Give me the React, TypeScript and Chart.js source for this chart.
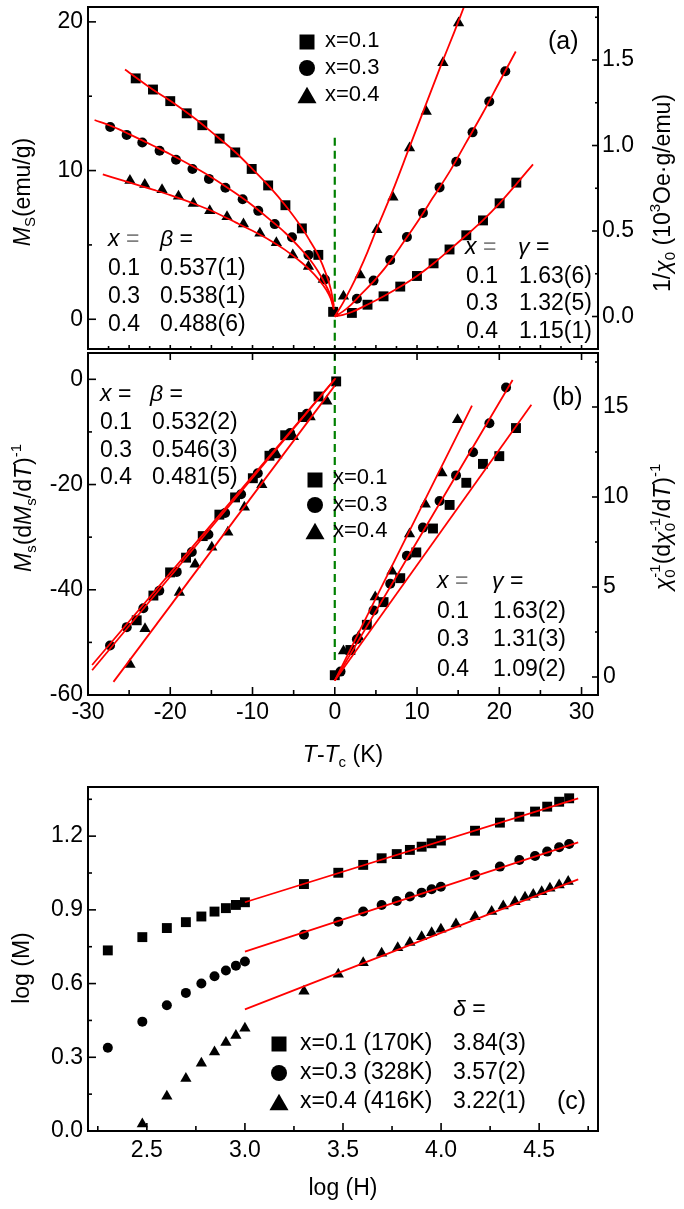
import React, { useEffect, useRef } from 'react';
import { Chart, registerables } from 'chart.js';

Chart.register(...registerables);

type Pt = [number, number];
type Style = 'rect' | 'circle' | 'triangle';

// ======================= DATA =======================
// Panel (a) – left axis: Ms (emu/g) vs T-Tc (K), T < Tc
const aMsX01: Pt[] = [[-24.2,16.2],[-22.1,15.45],[-20.0,14.67],[-18.0,13.85],[-16.1,13.05],[-14.0,12.15],[-12.1,11.22],[-10.1,10.11],[-8.1,9.0],[-6.0,7.67],[-4.0,6.11],[-2.0,4.33],[-0.2,0.5]];
const aMsX03: Pt[] = [[-27.3,12.93],[-25.3,12.4],[-23.4,11.89],[-21.3,11.33],[-19.3,10.73],[-17.3,10.11],[-15.3,9.44],[-13.3,8.84],[-11.2,8.07],[-9.3,7.29],[-7.3,6.4],[-5.2,5.51],[-3.2,4.33],[-1.2,2.67]];
const aMsX04: Pt[] = [[-24.9,9.33],[-23.1,9.07],[-21.0,8.71],[-19.0,8.27],[-17.2,7.78],[-15.2,7.29],[-13.1,6.89],[-11.1,6.4],[-9.1,5.78],[-7.1,5.15],[-5.1,4.33],[-3.2,3.55],[-1.4,2.67]];
const aMsFit01: Pt[] = [[-25.5,16.8],[-22,15.4],[-20,14.7],[-17,13.5],[-15,12.6],[-12,11.2],[-10,10.1],[-8,8.95],[-6,7.65],[-4,6.15],[-3,5.25],[-2,4.3],[-1,2.95],[-0.5,2.05],[-0.1,0.9]];
const aMsFit03: Pt[] = [[-29.2,13.4],[-27,12.95],[-25,12.45],[-22,11.65],[-20,11.1],[-17,10.2],[-15,9.55],[-12,8.45],[-10,7.65],[-8,6.75],[-6,5.8],[-4,4.65],[-3,4.0],[-2,3.2],[-1,2.2],[-0.5,1.55],[-0.1,0.7]];
const aMsFit04: Pt[] = [[-28.2,9.75],[-25,9.2],[-22,8.7],[-20,8.35],[-17,7.75],[-15,7.3],[-12,6.5],[-10,5.95],[-8,5.35],[-6,4.65],[-4,3.8],[-3,3.3],[-2,2.7],[-1,1.95],[-0.5,1.4],[-0.1,0.65]];
// Panel (a) – right axis: 1/chi0 (10^3 Oe g/emu), T > Tc
const aChiX01: Pt[] = [[2.08,0.021],[3.98,0.069],[5.93,0.118],[7.96,0.175],[9.99,0.237],[12.01,0.311],[13.95,0.392],[15.99,0.475],[18.02,0.562],[20.04,0.662],[22.07,0.783]];
const aChiX03: Pt[] = [[2.69,0.104],[4.71,0.21],[6.74,0.33],[8.77,0.465],[10.72,0.606],[12.74,0.755],[14.77,0.905],[16.75,1.077],[18.78,1.257],[20.73,1.434]];
const aChiX04: Pt[] = [[1.06,0.118],[3.09,0.243],[5.12,0.508],[7.07,0.697],[9.09,0.986],[11.12,1.199],[13.15,1.484],[15.05,1.716]];
const aChiFit01: Pt[] = [[0,0],[1,0.01],[2,0.025],[4,0.07],[6,0.12],[8,0.175],[10,0.237],[12,0.31],[14,0.392],[16,0.475],[18,0.562],[20,0.66],[22,0.77],[24.1,0.89]];
const aChiFit03: Pt[] = [[0,0],[1,0.03],[2,0.07],[3,0.12],[5,0.22],[7,0.34],[8,0.41],[10,0.55],[12,0.7],[14,0.85],[16,1.02],[18,1.19],[20,1.37],[22,1.55]];
const aChiFit04: Pt[] = [[0,0],[0.5,0.04],[1,0.08],[2,0.17],[3,0.27],[4,0.38],[5,0.5],[7,0.73],[9,0.98],[11,1.23],[13,1.48],[14.5,1.66],[15.7,1.81]];
const aTcLine: Pt[] = [[0,12.2],[0,-2]];

// Panel (b) – left axis: Ms(dMs/dT)^-1
const bKfX01: Pt[] = [[0.17,-0.4],[-1.98,-3.27],[-3.88,-7.17],[-6.03,-10.63],[-7.94,-14.53],[-9.96,-18.8],[-12.12,-22.45],[-14.03,-25.72],[-16.05,-29.8],[-18.08,-33.9],[-20.02,-36.7],[-22.05,-41.1],[-24.08,-45.8]];
const bKfX03: Pt[] = [[-3.39,-6.55],[-5.43,-10.19],[-7.46,-13.96],[-9.36,-17.87],[-11.39,-21.83],[-13.33,-25.42],[-15.36,-29.5],[-17.38,-32.83],[-19.21,-36.6],[-21.33,-40.2],[-23.27,-43.5],[-25.29,-47.1],[-27.32,-50.6]];
const bKfX04: Pt[] = [[-0.96,-4.15],[-2.99,-7.17],[-5.02,-10.94],[-7.04,-14.4],[-8.87,-20.06],[-10.99,-24.34],[-13.0,-29.06],[-14.95,-31.9],[-16.98,-35.16],[-18.89,-40.5],[-23.07,-47.4],[-24.89,-54.2]];
const bKfFit01: Pt[] = [[-29.5,-55.3],[0.1,0.2]];
const bKfFit03: Pt[] = [[-29.5,-54.3],[0,0]];
const bKfFit04: Pt[] = [[-26.9,-57.5],[0,-1.2]];
// Panel (b) – right axis: chi0^-1(dchi0^-1/dT)^-1
const bKfRX01: Pt[] = [[0.0,0.1],[1.9,1.5],[3.9,2.9],[5.93,4.16],[7.96,5.49],[9.91,6.92],[11.94,8.25],[13.96,9.56],[15.99,10.79],[18.01,11.84],[20.0,12.27],[22.03,13.83]];
const bKfRX03: Pt[] = [[0.7,0.3],[2.69,2.1],[4.71,3.7],[6.74,5.18],[8.77,6.74],[10.72,8.3],[12.74,9.78],[14.74,11.2],[16.81,12.49],[18.8,14.1],[20.82,16.08]];
const bKfRX04: Pt[] = [[1.06,1.45],[2.89,2.23],[4.92,4.44],[6.95,5.87],[9.09,7.94],[11.0,9.6],[13.03,11.34],[14.93,14.29]];
const bKfRFit01: Pt[] = [[0,-0.2],[23.9,15.12]];
const bKfRFit03: Pt[] = [[0,-0.2],[21.62,16.5]];
const bKfRFit04: Pt[] = [[0,-0.2],[16.68,15.08]];
const bTcLine: Pt[] = [[0,5],[0,-53.5]];

// Panel (c) – log(M) vs log(H)
const cLogH: number[] = [2.301,2.477,2.602,2.699,2.778,2.845,2.903,2.954,3.0,3.301,3.476,3.603,3.697,3.774,3.841,3.901,3.952,3.999,4.173,4.300,4.399,4.479,4.541,4.602,4.653];
const cLogM01: number[] = [0.735,0.789,0.826,0.850,0.873,0.893,0.907,0.920,0.931,1.005,1.051,1.083,1.110,1.127,1.144,1.157,1.171,1.182,1.222,1.255,1.279,1.300,1.320,1.340,1.354];
const cLogM03: number[] = [0.339,0.445,0.512,0.562,0.600,0.630,0.653,0.673,0.690,0.799,0.852,0.893,0.920,0.936,0.954,0.970,0.984,0.994,1.042,1.076,1.103,1.119,1.137,1.155,1.168];
const cLogH04: number[] = [2.477,2.602,2.699,2.778,2.845,2.903,2.954,3.0,3.301,3.476,3.603,3.697,3.779,3.841,3.901,3.952,3.999,4.076,4.173,4.258,4.317,4.377,4.428,4.470,4.513,4.555,4.602,4.648];
const cLogM04: number[] = [0.028,0.141,0.214,0.276,0.322,0.360,0.389,0.418,0.569,0.638,0.685,0.723,0.746,0.767,0.791,0.807,0.821,0.842,0.872,0.893,0.916,0.933,0.951,0.963,0.974,0.988,1.001,1.015];
const cFit01: Pt[] = [[3.0,0.931],[4.699,1.354]];
const cFit03: Pt[] = [[3.0,0.730],[4.699,1.175]];
const cFit04: Pt[] = [[3.0,0.495],[4.699,1.024]];

// Text values
const compX = ['0.1', '0.3', '0.4'];
const legendLabels = ['x=0.1', 'x=0.3', 'x=0.4'];
const aBeta = ['0.537(1)', '0.538(1)', '0.488(6)'];
const aGamma = ['1.63(6)', '1.32(5)', '1.15(1)'];
const bBeta = ['0.532(2)', '0.546(3)', '0.481(5)'];
const bGamma = ['1.63(2)', '1.31(3)', '1.09(2)'];
const cLegend = ['x=0.1 (170K)', 'x=0.3 (328K)', 'x=0.4 (416K)'];
const cDelta = ['3.84(3)', '3.57(2)', '3.22(1)'];

// Tick values
const abXTicks = [-30, -20, -10, 0, 10, 20, 30];
const abXMinor = [-25, -15, -5, 5, 15, 25];
const abXFine = [-27.5, -22.5, -17.5, -12.5, -7.5, -2.5, 2.5, 7.5, 12.5, 17.5, 22.5, 27.5];
const aLeftTicks = [0, 10, 20];
const aLeftMinor = [5, 15];
const aRightTicks = [0, 0.5, 1, 1.5];
const aRightMinor = [0.25, 0.75, 1.25, 1.75];
const bLeftTicks = [-60, -40, -20, 0];
const bLeftMinor = [-50, -30, -10];
const bRightTicks = [0, 5, 10, 15];
const bRightMinor = [2.5, 7.5, 12.5, 17.5];
const cXTicks = [2.5, 3, 3.5, 4, 4.5];
const cXMinor = [2.25, 2.75, 3.25, 3.75, 4.25, 4.75];
const cYTicks = [0, 0.3, 0.6, 0.9, 1.2];
const cYMinor = [0.15, 0.45, 0.75, 1.05, 1.35];

// ======================= STYLE / HELPERS =======================
const FONT = '"Liberation Sans", Arial, Helvetica, sans-serif';
const GREY = '#808080';
const R: Record<Style, number> = { rect: 7, circle: 5, triangle: 6.5 };
const LR: Record<Style, number> = { rect: 10.6, circle: 8, triangle: 11 };

interface Seg { t: string; i?: boolean; b?: 'sub' | 'sup'; c?: string; k?: boolean }
interface TextItem { segs: Seg[]; x: number; y: number; size: number; align?: 'left' | 'center'; rot?: boolean }
interface TickSpec { id: string; side: 'left' | 'right' | 'top' | 'bottom'; major: number[]; minor: number[]; ml: number; nl: number }
interface LegendMark { style: Style; x: number; y: number }

const toXY = (a: Pt[]) => a.map(([x, y]) => ({ x, y }));
const zipXY = (xs: number[], ys: number[]) => xs.map((x, i) => ({ x, y: ys[i] }));

function pts(data: { x: number; y: number }[], style: Style, yAxisID: string) {
  return {
    data, yAxisID, showLine: false, order: 1,
    pointStyle: style, pointRadius: R[style], pointHoverRadius: R[style],
    pointBackgroundColor: '#000', pointBorderColor: '#000', pointBorderWidth: 0,
  };
}
function fit(data: Pt[], yAxisID: string) {
  return {
    data: toXY(data), yAxisID, showLine: true, order: 0,
    borderColor: '#ff0000', borderWidth: 1.8, pointRadius: 0, fill: false,
    cubicInterpolationMode: 'monotone',
  };
}
function dash(data: Pt[], yAxisID: string) {
  return {
    data: toXY(data), yAxisID, showLine: true, order: 2,
    borderColor: '#008000', borderWidth: 2.2, borderDash: [8, 5], pointRadius: 0, fill: false,
  };
}

function scale(o: { pos: 'left' | 'right' | 'bottom'; min: number; max: number; ticks: number[]; dec: number; size: number; show?: boolean; pad?: number }) {
  const horiz = o.pos === 'bottom';
  return {
    type: 'linear', position: o.pos, min: o.min, max: o.max,
    grid: { display: false, drawTicks: false },
    border: { display: false },
    ticks: {
      display: o.show !== false, autoSkip: false, maxRotation: 0, minRotation: 0,
      padding: o.pad ?? 5, color: '#000', font: { family: FONT, size: 23 },
      callback: (v: number) => Number(v).toFixed(o.dec),
    },
    afterBuildTicks: (s: any) => { s.ticks = o.ticks.map((v) => ({ value: v })); },
    afterFit: (s: any) => {
      if (horiz) s.height = o.size; else s.width = o.size;
      s.paddingTop = 0; s.paddingBottom = 0; s.paddingLeft = 0; s.paddingRight = 0;
    },
  };
}

function drawRich(ctx: CanvasRenderingContext2D, it: TextItem) {
  const { segs, x, y, size } = it;
  ctx.save();
  ctx.translate(x, y);
  if (it.rot) ctx.rotate(-Math.PI / 2);
  ctx.textBaseline = 'middle';
  ctx.textAlign = 'left';
  const small = Math.round(size * 0.66);
  const fontOf = (s: Seg) => `${s.i ? 'italic ' : ''}${s.b ? small : size}px ${FONT}`;
  const pos: number[] = [];
  let cursor = 0, segStart = 0, segW = 0;
  for (const s of segs) {
    ctx.font = fontOf(s);
    const w = ctx.measureText(s.t).width;
    if (s.k) {
      pos.push(segStart);
      segW = Math.max(segW, w);
      cursor = segStart + segW;
    } else {
      pos.push(cursor);
      segStart = cursor; segW = w;
      cursor += w;
    }
  }
  const x0 = it.align === 'center' ? -cursor / 2 : 0;
  segs.forEach((s, idx) => {
    ctx.font = fontOf(s);
    ctx.fillStyle = s.c ?? '#000';
    const dy = s.b === 'sub' ? size * 0.3 : s.b === 'sup' ? -size * 0.36 : 0;
    ctx.fillText(s.t, x0 + pos[idx], dy);
  });
  ctx.restore();
}

function drawMarker(ctx: CanvasRenderingContext2D, style: Style, x: number, y: number, r: number) {
  ctx.beginPath();
  if (style === 'rect') { const s = r * Math.SQRT1_2; ctx.rect(x - s, y - s, 2 * s, 2 * s); }
  else if (style === 'circle') ctx.arc(x, y, r, 0, Math.PI * 2);
  else {
    const yc = y + r / 4;
    ctx.moveTo(x, yc - r); ctx.lineTo(x + r * 0.866, yc + r / 2); ctx.lineTo(x - r * 0.866, yc + r / 2); ctx.closePath();
  }
  ctx.fillStyle = '#000';
  ctx.fill();
}

function decorPlugin(offY: number, ticks: TickSpec[], texts: TextItem[], marks: LegendMark[]) {
  return {
    id: 'decor',
    afterDatasetsDraw(chart: any) {
      const ctx = chart.ctx as CanvasRenderingContext2D;
      const a = chart.chartArea;
      ctx.save();
      ctx.strokeStyle = '#000';
      ctx.lineWidth = 2;
      ctx.strokeRect(a.left, a.top, a.right - a.left, a.bottom - a.top);
      ctx.lineWidth = 1.6;
      for (const t of ticks) {
        const sc = chart.scales[t.id];
        const draw = (v: number, len: number) => {
          const p = sc.getPixelForValue(v);
          ctx.beginPath();
          if (t.side === 'left') { ctx.moveTo(a.left, p); ctx.lineTo(a.left + len, p); }
          else if (t.side === 'right') { ctx.moveTo(a.right, p); ctx.lineTo(a.right - len, p); }
          else if (t.side === 'bottom') { ctx.moveTo(p, a.bottom); ctx.lineTo(p, a.bottom - len); }
          else { ctx.moveTo(p, a.top); ctx.lineTo(p, a.top + len); }
          ctx.stroke();
        };
        t.major.forEach((v) => draw(v, t.ml));
        t.minor.forEach((v) => draw(v, t.nl));
      }
      ctx.translate(0, -offY);
      marks.forEach((m) => drawMarker(ctx, m.style, m.x, m.y, LR[m.style]));
      texts.forEach((tx) => drawRich(ctx, tx));
      ctx.restore();
    },
  };
}

function common(padTop: number, padRight: number) {
  return {
    responsive: false,
    animation: false,
    events: [],
    layout: { padding: { top: padTop, right: padRight, left: 0, bottom: 0 } },
    plugins: { legend: { display: false }, tooltip: { enabled: false }, title: { display: false } },
  };
}

const T = (t: string, x: number, y: number, size = 23): TextItem => ({ segs: [{ t }], x, y, size });
const styles: Style[] = ['rect', 'circle', 'triangle'];

// ======================= PANEL (a) =======================
const aTexts: TextItem[] = [
  { segs: [{ t: 'M', i: true }, { t: 'S', b: 'sub' }, { t: '(emu/g)' }], x: 24, y: 192, size: 23, align: 'center', rot: true },
  { segs: [{ t: '1/' }, { t: 'χ', i: true }, { t: '0', b: 'sub' }, { t: ' (10' }, { t: '3', b: 'sup' }, { t: 'Oe·g/emu)' }], x: 664, y: 193, size: 23, align: 'center', rot: true },
  T('(a)', 548, 42, 25),
  ...legendLabels.map((l, i) => T(l, 325, [41, 68, 95][i], 22)),
  { segs: [{ t: 'x', i: true }, { t: ' =', c: GREY }], x: 108, y: 240, size: 23 },
  { segs: [{ t: 'β', i: true }, { t: ' =' }], x: 160, y: 240, size: 23 },
  ...compX.map((c, i) => T(c, 108, [269, 297, 325][i])),
  ...aBeta.map((c, i) => T(c, 160, [269, 297, 325][i])),
  { segs: [{ t: 'x', i: true }, { t: ' =', c: GREY }], x: 465, y: 248, size: 23 },
  { segs: [{ t: 'γ', i: true }, { t: ' =' }], x: 518, y: 248, size: 23 },
  ...compX.map((c, i) => T(c, 466, [277, 304, 332][i])),
  ...aGamma.map((c, i) => T(c, 519, [277, 304, 332][i])),
];
const aMarks: LegendMark[] = styles.map((s, i) => ({ style: s, x: 307, y: [42, 68, 95][i] }));
const aTicks: TickSpec[] = [
  { id: 'yL', side: 'left', major: aLeftTicks, minor: aLeftMinor, ml: 8, nl: 4 },
  { id: 'yR', side: 'right', major: aRightTicks, minor: aRightMinor, ml: 6, nl: 3 },
  { id: 'x', side: 'bottom', major: [...abXTicks, ...abXMinor], minor: abXFine, ml: 4, nl: 3 },
];

const aConfig = () => ({
  type: 'scatter',
  data: {
    datasets: [
      fit(aMsFit01, 'yL'), fit(aMsFit03, 'yL'), fit(aMsFit04, 'yL'),
      fit(aChiFit01, 'yR'), fit(aChiFit03, 'yR'), fit(aChiFit04, 'yR'),
      dash(aTcLine, 'yL'),
      pts(toXY(aMsX01), 'rect', 'yL'), pts(toXY(aMsX03), 'circle', 'yL'), pts(toXY(aMsX04), 'triangle', 'yL'),
      pts(toXY(aChiX01), 'rect', 'yR'), pts(toXY(aChiX03), 'circle', 'yR'), pts(toXY(aChiX04), 'triangle', 'yR'),
    ],
  },
  options: {
    ...common(5, 0),
    scales: {
      x: scale({ pos: 'bottom', min: -30, max: 32, ticks: abXTicks, dec: 0, size: 5, show: false }),
      yL: scale({ pos: 'left', min: -2, max: 21, ticks: aLeftTicks, dec: 0, size: 88 }),
      yR: scale({ pos: 'right', min: -0.19, max: 1.81, ticks: aRightTicks, dec: 1, size: 86, pad: 4 }),
    },
  },
  plugins: [decorPlugin(0, aTicks, aTexts, aMarks)],
});

// ======================= PANEL (b) =======================
const B_TOP = 346;
const bTexts: TextItem[] = [
  { segs: [{ t: 'M', i: true }, { t: 's', b: 'sub' }, { t: '(d' }, { t: 'M', i: true }, { t: 's', b: 'sub' }, { t: '/d' }, { t: 'T', i: true }, { t: ')' }, { t: '-1', b: 'sup' }], x: 25, y: 508, size: 23, align: 'center', rot: true },
  { segs: [{ t: 'χ', i: true }, { t: '0', b: 'sub' }, { t: '-1', b: 'sup', k: true }, { t: '(d' }, { t: 'χ', i: true }, { t: '0', b: 'sub' }, { t: '-1', b: 'sup', k: true }, { t: '/d' }, { t: 'T', i: true }, { t: ')' }, { t: '-1', b: 'sup' }], x: 664, y: 527, size: 23, align: 'center', rot: true },
  { segs: [{ t: 'T', i: true }, { t: '-' }, { t: 'T', i: true }, { t: 'c', b: 'sub' }, { t: ' (K)' }], x: 343, y: 756, size: 23, align: 'center' },
  T('(b)', 552, 398, 25),
  ...legendLabels.map((l, i) => T(l, 333, [478, 505, 531][i], 22)),
  { segs: [{ t: 'x', i: true }, { t: ' =' }], x: 100, y: 395, size: 23 },
  { segs: [{ t: 'β', i: true }, { t: ' =' }], x: 150, y: 395, size: 23 },
  ...compX.map((c, i) => T(c, 100, [423, 451, 478][i])),
  ...bBeta.map((c, i) => T(c, 152, [423, 451, 478][i])),
  { segs: [{ t: 'x', i: true }, { t: ' =', c: GREY }], x: 437, y: 582, size: 23 },
  { segs: [{ t: 'γ', i: true }, { t: ' =' }], x: 492, y: 582, size: 23 },
  ...compX.map((c, i) => T(c, 437, [612, 640, 670][i])),
  ...bGamma.map((c, i) => T(c, 493, [612, 640, 670][i])),
];
const bMarks: LegendMark[] = styles.map((s, i) => ({ style: s, x: 315, y: [480, 505, 531][i] }));
const bTicks: TickSpec[] = [
  { id: 'yL', side: 'left', major: bLeftTicks, minor: bLeftMinor, ml: 8, nl: 4 },
  { id: 'yR', side: 'right', major: bRightTicks, minor: bRightMinor, ml: 6, nl: 3 },
  { id: 'x', side: 'bottom', major: abXTicks, minor: abXMinor, ml: 8, nl: 5 },
  { id: 'x', side: 'top', major: abXTicks, minor: [], ml: 7, nl: 0 },
];

const bConfig = () => ({
  type: 'scatter',
  data: {
    datasets: [
      fit(bKfFit01, 'yL'), fit(bKfFit03, 'yL'), fit(bKfFit04, 'yL'),
      fit(bKfRFit01, 'yR'), fit(bKfRFit03, 'yR'), fit(bKfRFit04, 'yR'),
      dash(bTcLine, 'yL'),
      pts(toXY(bKfX01), 'rect', 'yL'), pts(toXY(bKfX03), 'circle', 'yL'), pts(toXY(bKfX04), 'triangle', 'yL'),
      pts(toXY(bKfRX01), 'rect', 'yR'), pts(toXY(bKfRX03), 'circle', 'yR'), pts(toXY(bKfRX04), 'triangle', 'yR'),
    ],
  },
  options: {
    ...common(5, 0),
    scales: {
      x: scale({ pos: 'bottom', min: -30, max: 32, ticks: abXTicks, dec: 0, size: 85, pad: 4 }),
      yL: scale({ pos: 'left', min: -60, max: 5, ticks: bLeftTicks, dec: 0, size: 88 }),
      yR: scale({ pos: 'right', min: -1, max: 18, ticks: bRightTicks, dec: 0, size: 86, pad: 5 }),
    },
  },
  plugins: [decorPlugin(B_TOP, bTicks, bTexts, bMarks)],
});

// ======================= PANEL (c) =======================
const C_TOP = 780;
const cTexts: TextItem[] = [
  { segs: [{ t: 'log (M)' }], x: 23, y: 968, size: 23, align: 'center', rot: true },
  { segs: [{ t: 'log (H)' }], x: 343, y: 1189, size: 23, align: 'center' },
  ...cLegend.map((l, i) => T(l, 300, [1044, 1073, 1102][i])),
  { segs: [{ t: 'δ', i: true }, { t: ' =' }], x: 453, y: 1010, size: 23 },
  ...cDelta.map((d, i) => T(d, 453, [1044, 1073, 1102][i])),
  T('(c)', 557, 1102, 25),
];
const cMarks: LegendMark[] = styles.map((s, i) => ({ style: s, x: 279, y: [1044, 1073, 1102][i] }));
const cTicks: TickSpec[] = [
  { id: 'y', side: 'left', major: cYTicks, minor: cYMinor, ml: 8, nl: 4 },
  { id: 'x', side: 'bottom', major: cXTicks, minor: cXMinor, ml: 8, nl: 5 },
];

const cConfig = () => ({
  type: 'scatter',
  data: {
    datasets: [
      fit(cFit01, 'y'), fit(cFit03, 'y'), fit(cFit04, 'y'),
      pts(zipXY(cLogH, cLogM01), 'rect', 'y'),
      pts(zipXY(cLogH, cLogM03), 'circle', 'y'),
      pts(zipXY(cLogH04, cLogM04), 'triangle', 'y'),
    ],
  },
  options: {
    ...common(7, 86),
    scales: {
      x: scale({ pos: 'bottom', min: 2.2, max: 4.8, ticks: cXTicks, dec: 1, size: 78, pad: 6 }),
      y: scale({ pos: 'left', min: 0, max: 1.4, ticks: cYTicks, dec: 1, size: 88 }),
    },
  },
  plugins: [decorPlugin(C_TOP, cTicks, cTexts, cMarks)],
});

// ======================= COMPONENTS =======================
function PanelCanvas({ top, height, config }: { top: number; height: number; config: () => any }) {
  const ref = useRef<HTMLCanvasElement>(null);
  useEffect(() => {
    const chart = new Chart(ref.current as HTMLCanvasElement, config());
    return () => chart.destroy();
  }, []);
  return (
    <canvas
      ref={ref}
      width={684}
      height={height}
      style={{ position: 'absolute', left: 0, top, width: 684, height }}
    />
  );
}

export default function App() {
  return (
    <div style={{ position: 'absolute', left: 0, top: 0, width: 684, height: 1209, background: '#fff', overflow: 'hidden' }}>
      <PanelCanvas top={0} height={356} config={aConfig} />
      <PanelCanvas top={B_TOP} height={434} config={bConfig} />
      <PanelCanvas top={C_TOP} height={429} config={cConfig} />
    </div>
  );
}
